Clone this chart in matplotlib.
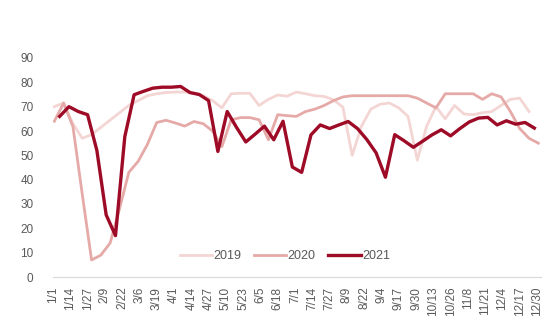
import pandas as pd
import numpy as np
import matplotlib
matplotlib.use('Agg')
import matplotlib.pyplot as plt
import matplotlib.dates as mdates

plt.rcParams['font.family'] = ['Liberation Sans', 'DejaVu Sans']

# weekly values, all mapped onto one calendar year (2020 axis)
dates_2019 = pd.date_range('2020-01-02', periods=52, freq='7D')
dates_2020 = pd.date_range('2020-01-02', periods=53, freq='7D')
dates_2021 = pd.date_range('2020-01-06', periods=52, freq='7D')

v2019 = [70, 71.5, 63, 57, 58.5, 61.5, 64.5, 67.5, 70.5, 72.5, 74.5, 75.3, 75.8,
         76, 76, 75.5, 74.5, 72.5, 69.5, 75.3, 75.5, 75.5, 70.5, 73, 74.8, 74.3,
         76, 75.3, 74.5, 74.2, 72.8, 69.8, 50, 62, 69, 71, 71.5, 69.5, 66, 48,
         62, 70, 65, 70.5, 67, 66.7, 67.5, 68, 70.5, 73, 73.5, 68]
v2020 = [64, 71.5, 61.8, 34, 7, 9, 14, 28, 43, 47.5, 54.5, 63.5, 64.4, 63.3, 62,
         63.9, 63, 60, 53.6, 64.6, 65.5, 65.5, 64.6, 56.4, 66.7, 66.3, 66, 68, 69,
         70.5, 72.5, 74, 74.5, 74.5, 74.5, 74.5, 74.5, 74.5, 74.5, 73.5, 71.5,
         69.5, 75.3, 75.3, 75.3, 75.3, 73, 75.3, 74, 68, 61, 57, 55]
v2021 = [66, 70, 68, 66.7, 52, 25.5, 17, 57.7, 74.9, 76.3, 77.6, 78, 78, 78.3,
         75.8, 75, 72.5, 51.6, 68, 61.5, 55.5, 58.7, 62, 56.4, 64, 45.2, 43, 58.4,
         62.5, 61, 62.5, 63.9, 61, 56.5, 51, 41, 58.5, 56, 53.3, 55.8, 58.4, 60.5,
         58, 61, 63.7, 65.3, 65.6, 62.5, 64.2, 62.8, 63.5, 61.2]

tick_dates = pd.date_range('2020-01-01', '2020-12-30', freq='13D')
tick_labels = [f'{d.month}/{d.day}' for d in tick_dates]

fig = plt.figure(figsize=(5.5, 3.28), dpi=100)
ax = fig.add_axes([53/550, 51/328, 488/550, 219/328])

ax.plot(dates_2019, v2019, color='#F3D6D4', lw=2.0, label='2019', solid_joinstyle='round')
ax.plot(dates_2020, v2020, color='#E5AAA7', lw=2.0, label='2020', solid_joinstyle='round')
ax.plot(dates_2021, v2021, color='#9E0B27', lw=2.4, label='2021', solid_joinstyle='round')

ax.set_xlim(pd.Timestamp('2020-01-01'), pd.Timestamp('2020-01-01') + pd.Timedelta(days=367))
ax.set_ylim(0, 90)
ax.set_yticks(range(0, 91, 10))
ax.set_xticks(tick_dates)
ax.set_xticklabels(tick_labels, rotation=90)

for s in ['top', 'right', 'left']:
    ax.spines[s].set_visible(False)
ax.spines['bottom'].set_color('#D9D9D9')
ax.spines['bottom'].set_linewidth(0.8)
ax.tick_params(axis='both', length=0, colors='#595959', labelsize=8.5)
ax.tick_params(axis='y', pad=14)
ax.tick_params(axis='x', pad=7)

leg = ax.legend(loc='center', bbox_to_anchor=(0.475, 0.096), ncol=3, frameon=False,
                fontsize=9, handlelength=2.6, handletextpad=0.1, columnspacing=1.0)
for t in leg.get_texts():
    t.set_color('#595959')

fig.savefig('out.png', dpi=100)
